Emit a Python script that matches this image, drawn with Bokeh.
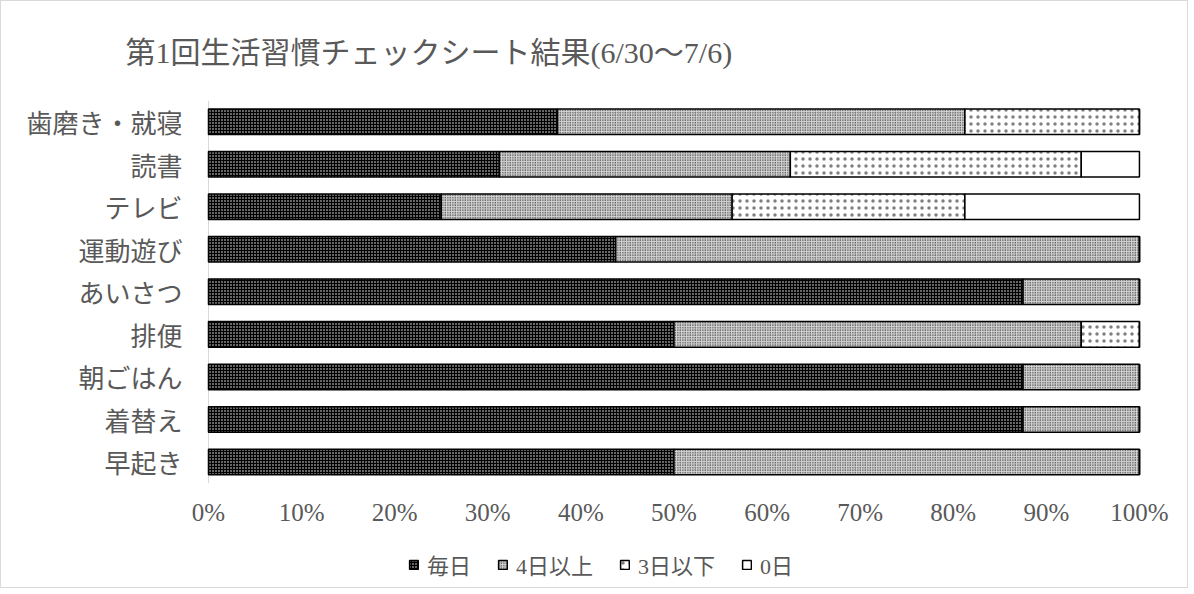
from bokeh.plotting import figure
from bokeh.models import (ColumnDataSource, Range1d, FixedTicker,
                          PrintfTickFormatter, Legend, LegendItem)
from bokeh.embed import file_html
from bokeh.resources import INLINE

# ---- data (percent of respondents) ----
categories = ["歯磨き・就寝", "読書", "テレビ", "運動遊び", "あいさつ",
              "排便", "朝ごはん", "着替え", "早起き"]
series_names = ["毎日", "4日以上", "3日以下", "0日"]
mainichi = [37.5, 31.25, 25.0, 43.75, 87.5, 50.0, 87.5, 87.5, 50.0]
yokka_ijou = [43.75, 31.25, 31.25, 56.25, 12.5, 43.75, 12.5, 12.5, 50.0]
mikka_ika = [18.75, 31.25, 25.0, 0.0, 0.0, 6.25, 0.0, 0.0, 0.0]
zero_nichi = [0.0, 6.25, 18.75, 0.0, 0.0, 0.0, 0.0, 0.0, 0.0]
x_ticks = [0, 10, 20, 30, 40, 50, 60, 70, 80, 90, 100]
title_text = "第1回生活習慣チェックシート結果(6/30～7/6)"

SERIF = "'Liberation Serif', 'Noto Sans CJK JP'"
SANS = "'Noto Sans CJK JP'"
GRAY = "#595959"

n = len(categories)
ypos = [n - 1 - i for i in range(n)]          # first category on top

# frame is a little wider than the 0-100 band so edge tick labels fit
p = figure(width=1188, height=588,
           y_range=Range1d(-3.0, n - 0.5),
           x_range=Range1d(-2.04, 103.55),
           output_backend="svg", toolbar_location=None,
           min_border_left=188, min_border_right=17,
           min_border_top=96, min_border_bottom=0,
           styles={"border": "1px solid #d9d9d9"})

p.title.text = title_text
p.title.text_font = SERIF
p.title.text_font_size = "30px"
p.title.text_font_style = "normal"
p.title.text_color = GRAY
p.title.align = "left"
p.title.text_line_height = 0.8
p.title.offset = -64
p.title.standoff = 64

p.outline_line_color = None
p.xgrid.visible = False
p.ygrid.visible = False

# vertical axis line limited to the category band
p.segment(x0=[0], y0=[-0.5], x1=[0], y1=[n - 0.5], line_color="#d9d9d9",
          line_width=1)

series = [mainichi, yokka_ijou, mikka_ika, zero_nichi]
styles = [
    dict(fill_color="black", hatch_pattern="dot", hatch_color="white",
         hatch_scale=3, hatch_weight=1),
    dict(fill_color="#d4d4d4", hatch_pattern="dot", hatch_color="black",
         hatch_scale=2.5, hatch_weight=1),
    dict(fill_color="white", hatch_pattern="dot", hatch_color="black",
         hatch_scale=7, hatch_weight=1, hatch_alpha=0.5),
    dict(fill_color="white"),
]

cum = [0.0] * n
items = []
for name, vals, st in zip(series_names, series, styles):
    left = cum[:]
    right = [a + b for a, b in zip(cum, vals)]
    cum = right
    src = ColumnDataSource(dict(y=ypos, left=left, right=right, cat=categories))
    r = p.hbar(y="y", left="left", right="right", height=0.6, source=src,
               line_color="black", line_width=1.5, **st)
    items.append(LegendItem(label=name, renderers=[r]))

# x axis (placed just under the category band)
p.xaxis.fixed_location = -1.43
p.xaxis.ticker = FixedTicker(ticks=x_ticks)
p.xaxis.formatter = PrintfTickFormatter(format="%d%%")
p.xaxis.axis_line_color = None
p.xaxis.major_tick_line_color = None
p.xaxis.minor_tick_line_color = None
p.xaxis.major_label_text_font = SERIF
p.xaxis.major_label_text_font_size = "25px"
p.xaxis.major_label_text_color = GRAY
p.xaxis.major_label_standoff = -30

# y axis with category names
p.yaxis.ticker = FixedTicker(ticks=ypos)
p.yaxis.major_label_overrides = {y: c for y, c in zip(ypos, categories)}
p.yaxis.axis_line_color = None
p.yaxis.major_tick_line_color = None
p.yaxis.minor_tick_line_color = None
p.yaxis.major_label_text_font = SANS
p.yaxis.major_label_text_font_size = "26px"
p.yaxis.major_label_text_color = GRAY
p.yaxis.major_label_standoff = 1

legend = Legend(items=items, orientation="horizontal", location=(219, 9),
                glyph_width=11, glyph_height=11, label_standoff=8, spacing=26,
                padding=0, margin=0, border_line_color=None,
                background_fill_alpha=0,
                label_text_font=SERIF, label_text_font_size="22px",
                label_text_color=GRAY)
p.add_layout(legend, "center")

open("out.html", "w").write(file_html(p, INLINE))
